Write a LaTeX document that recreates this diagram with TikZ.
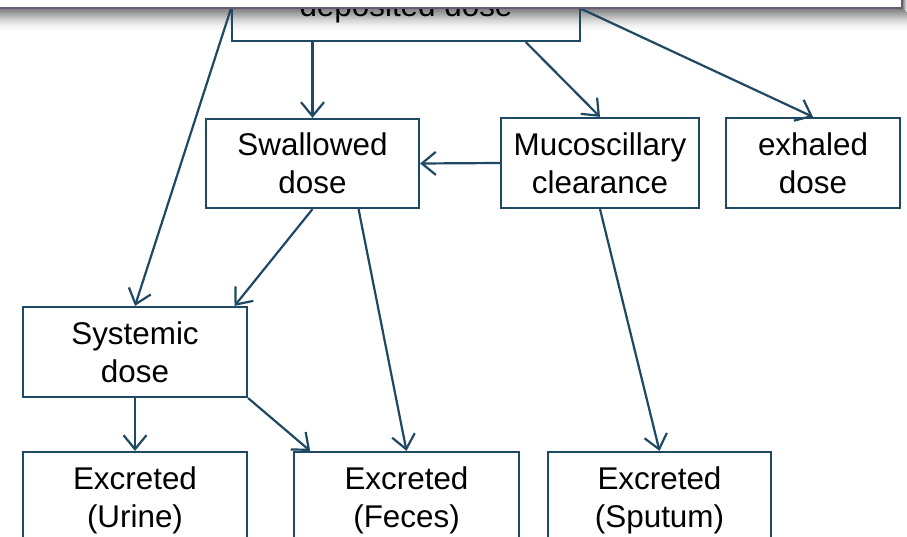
\documentclass[tikz,border=0pt]{standalone}
\usepackage{fontspec}
\setmainfont{Liberation Sans}
\usetikzlibrary{arrows.meta,calc}
\definecolor{boxc}{HTML}{1F4963}
\definecolor{overc}{HTML}{6A5873}
\begin{document}
\begin{tikzpicture}[x=1pt,y=-1pt,
  box/.style={draw=boxc, line width=2.2pt, fill=white, inner sep=0pt, align=center,
    font=\fontsize{31.4}{38}\selectfont, text=black},
  conn/.style={draw=boxc, line width=2.2pt, -{Straight Barb[length=14pt,width=23pt,line width=2.2pt]}}]
\useasboundingbox (0,0) rectangle (907,537);
\clip (0,0) rectangle (907,537);
\fill[white] (0,0) rectangle (907,537);

% shadow of the overlay panel (drawn first, opaque gradient)
\foreach \i/\p in {0/48,1/46,2/43,3/40,4/37,5/34,6/31,7/28,8/25,9/22,10/19,
  11/16,12/14,13/12,14/10,15/8,16/6,17/5,18/4,19/3,20/2,21/1}{
  \fill[black!\p] (0,9+\i) rectangle (907,10+\i);
}
\foreach \i/\p in {0/45,1/35,2/25,3/15,4/7}{
  \fill[black!\p] (903+\i,-5) rectangle (904+\i,9+\i);
}

% boxes
\node[box, fill=none, minimum width=348pt, minimum height=64.4pt] (dep) at (406,8.8) {deposited dose};
\node[box, minimum width=213pt, minimum height=89pt] (sw) at (312.5,163.5) {Swallowed\\dose};
\node[box, minimum width=198pt, minimum height=90pt] (mu) at (600,163) {Mucoscillary\\clearance};
\node[box, minimum width=174pt, minimum height=90pt] (ex) at (813,163) {exhaled\\dose};
\node[box, minimum width=224pt, minimum height=90pt] (sys) at (135,352) {Systemic\\dose};
\node[box, minimum width=224pt, minimum height=96pt] (ur) at (135,500) {Excreted\\(Urine)};
\node[box, minimum width=225pt, minimum height=96pt] (fe) at (406.5,500) {Excreted\\(Feces)};
\node[box, minimum width=223pt, minimum height=96pt] (sp) at (659.5,500) {Excreted\\(Sputum)};

% connectors
\draw[conn] (dep.south -| sw.north) -- (sw.north);
\draw[conn] ($(dep.south west)!0.842!(dep.south east)$) -- (mu.north);
\draw[conn] (dep.east) -- (ex.north);
\draw[conn] (dep.west) -- (sys.north);
\draw[conn] (sw.south) -- ($(sys.north west)!0.94!(sys.north east)$);
\draw[conn] ($(sw.south west)!0.714!(sw.south east)$) -- (fe.north);
\draw[conn] (mu.west) -- (sw.east);
\draw[conn] (mu.south) -- (sp.north);
\draw[conn] (sys.south) -- (ur.north);
\draw[conn] (sys.south east) -- ($(fe.north west)!0.076!(fe.north east)$);

% overlay panel
\draw[overc, line width=2.4pt, fill=white] (-5,-5) rectangle (902,8);
\end{tikzpicture}
\end{document}
